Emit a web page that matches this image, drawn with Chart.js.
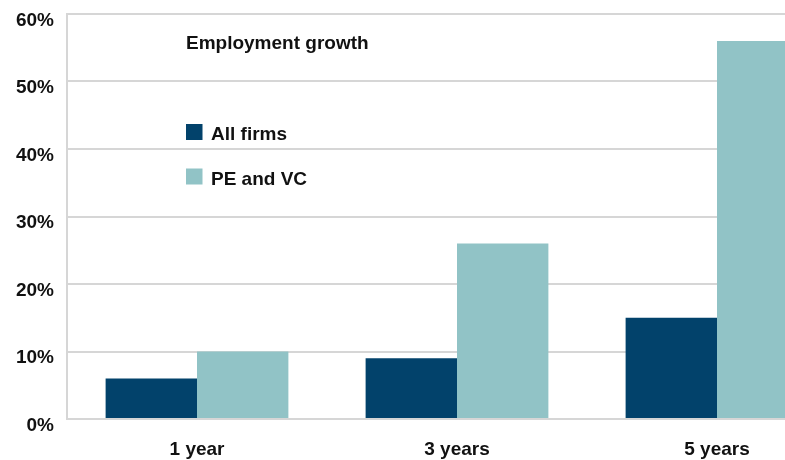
<!DOCTYPE html>
<html>
<head>
<meta charset="utf-8">
<script src="https://cdn.jsdelivr.net/npm/chart.js@4.4.1/dist/chart.umd.min.js"></script>
<style>
  html, body { margin: 0; padding: 0; background: #ffffff; overflow: hidden; }
  #wrap { width: 850px; height: 460px; }
</style>
</head>
<body>
<div id="wrap"><canvas id="c" width="850" height="460"></canvas></div>
<script>
const categories = ["1 year", "3 years", "5 years"];
const allFirms = [6, 9, 15];
const peAndVc = [10, 26, 56];
const seriesNames = ["All firms", "PE and VC"];
const yTicks = [0, 10, 20, 30, 40, 50, 60];
const chartTitle = "Employment growth";

const FONT = "'Liberation Sans', Arial, sans-serif";
const WEIGHT = "bold";
const FSIZE = 19;
const NAVY = "#02426b";
const TEAL = "#91c3c6";
const GRID = "#d6d6d6";

const overlay = {
  id: "overlay",
  afterDraw(chart) {
    const ctx = chart.ctx;
    ctx.save();
    ctx.fillStyle = "#111111";
    ctx.font = WEIGHT + " " + FSIZE + "px " + FONT;
    ctx.textAlign = "left";
    ctx.textBaseline = "alphabetic";
    ctx.fillText(chartTitle, 186, 48.5);
    const rows = [140, 184.5];
    chart.data.datasets.forEach((ds, i) => {
      ctx.fillStyle = ds.backgroundColor;
      ctx.fillRect(186, rows[i] - 16, 16.5, 16);
      ctx.fillStyle = "#111111";
      ctx.fillText(ds.label, 211, rows[i]);
    });
    ctx.restore();
  }
};

new Chart(document.getElementById("c"), {
  type: "bar",
  data: {
    labels: categories,
    datasets: [
      { label: seriesNames[0], data: allFirms, backgroundColor: NAVY, borderWidth: 0 },
      { label: seriesNames[1], data: peAndVc, backgroundColor: TEAL, borderWidth: 0 }
    ]
  },
  options: {
    responsive: false,
    animation: false,
    events: [],
    layout: { padding: { top: 14, right: 3, bottom: 0, left: 0 } },
    plugins: {
      legend: { display: false },
      title: { display: false },
      tooltip: { enabled: false }
    },
    datasets: { bar: { categoryPercentage: 0.703, barPercentage: 1.0 } },
    scales: {
      x: {
        grid: { display: false, drawTicks: false },
        border: { display: false },
        ticks: { color: "#111111", font: { family: FONT, size: FSIZE, weight: WEIGHT }, padding: 19, maxRotation: 0 },
        afterFit(scale) {
          scale.height = 41;
          scale.paddingLeft = 0; scale.paddingRight = 0;
        }
      },
      y: {
        min: 0,
        max: 60,
        afterBuildTicks(scale) { scale.ticks = yTicks.map(v => ({ value: v })); },
        grid: { color: GRID, lineWidth: 2, drawTicks: false },
        border: { display: true, color: GRID, width: 2 },
        ticks: {
          color: "#111111",
          font: { family: FONT, size: FSIZE, weight: WEIGHT },
          padding: 13,
          labelOffset: 6.5,
          callback: v => v + "%"
        },
        afterFit(scale) {
          scale.width = 67;
          scale.paddingTop = 0; scale.paddingBottom = 0;
        }
      }
    }
  },
  plugins: [overlay]
});
</script>
</body>
</html>
